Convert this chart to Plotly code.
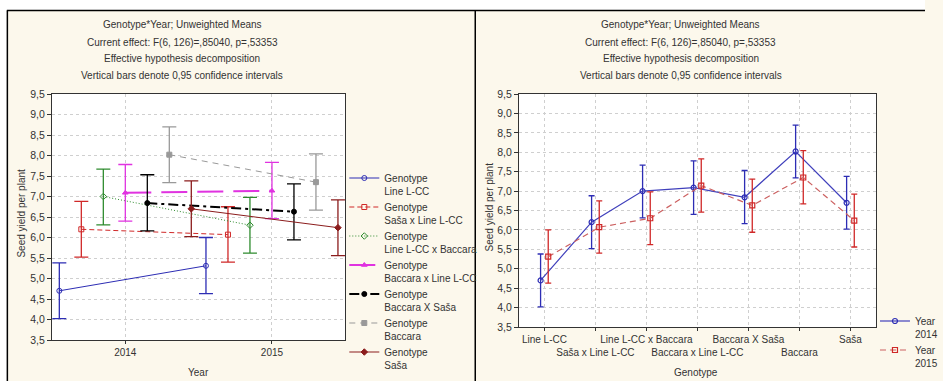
import plotly.graph_objects as go

W, H = 943, 381

genotypes = ["Line L-CC", "Saša x Line L-CC", "Line L-CC x Baccara",
             "Baccara x Line L-CC", "Baccara X Saša", "Baccara", "Saša"]
years = ["2014", "2015"]

mean_2014 = [4.70, 6.20, 7.00, 7.09, 6.84, 8.02, 6.70]
mean_2015 = [5.31, 6.07, 6.30, 7.14, 6.63, 7.35, 6.24]
low_2014 = [4.02, 5.52, 6.31, 6.40, 6.16, 7.34, 6.02]
up_2014 = [5.38, 6.88, 7.67, 7.78, 7.53, 8.70, 7.38]
low_2015 = [4.63, 5.40, 5.62, 6.46, 5.94, 6.67, 5.56]
up_2015 = [6.00, 6.75, 6.98, 7.83, 7.31, 8.04, 6.92]

title_lines = ["Genotype*Year; Unweighted Means",
               "Current effect: F(6, 126)=,85040, p=,53353",
               "Effective hypothesis decomposition",
               "Vertical bars denote 0,95 confidence intervals"]

FONT = "Liberation Sans, Arial, sans-serif"
FS = 10
TXT = "#333333"
CREAM = "#FCF8EC"

geno_styles = [
    dict(color="#2D2DB4", dash="solid", width=1, symbol="circle-open"),
    dict(color="#D02828", dash="5px,3px", width=1, symbol="square-open"),
    dict(color="#2E8B2E", dash="1px,2px", width=1, symbol="diamond-open"),
    dict(color="#E033E0", dash="26px,10px", width=2, symbol="triangle-up"),
    dict(color="#000000", dash="10px,4px,3px,4px", width=2, symbol="circle"),
    dict(color="#999999", dash="6px,5px", width=1, symbol="square"),
    dict(color="#8B1C1C", dash="solid", width=1, symbol="diamond"),
]

fig = go.Figure()

# ---- left panel: x = year, one trace per genotype
for i, g in enumerate(genotypes):
    st = geno_styles[i]
    off = (i - 3) * 0.15
    xs = [0 + off, 1 + off]
    ys = [mean_2014[i], mean_2015[i]]
    plus = [up_2014[i] - mean_2014[i], up_2015[i] - mean_2015[i]]
    minus = [mean_2014[i] - low_2014[i], mean_2015[i] - low_2015[i]]
    fig.add_trace(go.Scatter(
        x=xs, y=ys, mode="lines+markers", name="Genotype<br>" + g,
        line=dict(color=st["color"], dash=st["dash"], width=st["width"]),
        marker=dict(symbol=st["symbol"], size=5, color=st["color"],
                    line=dict(color=st["color"], width=1)),
        error_y=dict(type="data", symmetric=False, array=plus, arrayminus=minus,
                     color=st["color"], thickness=1.3, width=7),
        xaxis="x", yaxis="y", legend="legend",
    ))

# ---- right panel: x = genotype, one trace per year
year_styles = [
    dict(line="#4040BC", bar="#2D2DB4", dash="solid", symbol="circle-open", off=-0.075),
    dict(line="#CC6060", bar="#D02828", dash="6px,4px", symbol="square-open", off=0.075),
]
year_means = [mean_2014, mean_2015]
year_low = [low_2014, low_2015]
year_up = [up_2014, up_2015]
for k, yr in enumerate(years):
    st = year_styles[k]
    xs = [j + st["off"] for j in range(len(genotypes))]
    m = year_means[k]
    plus = [u - v for u, v in zip(year_up[k], m)]
    minus = [v - l for v, l in zip(m, year_low[k])]
    fig.add_trace(go.Scatter(
        x=xs, y=m, mode="lines+markers", name="Year<br>" + yr,
        line=dict(color=st["line"], dash=st["dash"], width=1.2),
        marker=dict(symbol=st["symbol"], size=5, color=st["bar"],
                    line=dict(color=st["bar"], width=1.2)),
        error_y=dict(type="data", symmetric=False, array=plus, arrayminus=minus,
                     color=st["bar"], thickness=1.3, width=3),
        xaxis="x2", yaxis="y2", legend="legend2",
    ))

def px_x(p):
    return p / W

def px_y(p):
    return 1 - p / H

yaxis_common = dict(range=[3.5, 9.5], dtick=0.5, tick0=3.5, tickformat=".1f",
                    showgrid=True, gridcolor="#CFCFCF", griddash="dot", gridwidth=1,
                    showline=True, linecolor="#333333", linewidth=1, mirror=True,
                    ticks="outside", ticklen=4, tickcolor="#333333", automargin=False,
                    tickfont=dict(family=FONT, size=FS + 0.5, color=TXT), zeroline=False)

xaxis_common = dict(showgrid=True, gridcolor="#CFCFCF", griddash="dot", gridwidth=1,
                    showline=True, linecolor="#333333", linewidth=1, mirror=True,
                    ticks="outside", ticklen=3, tickcolor="#333333", automargin=False,
                    tickangle=0,
                    tickfont=dict(family=FONT, size=FS, color=TXT), zeroline=False)

right_ticktext = [("<br>" + g) if j % 2 == 1 else g for j, g in enumerate(genotypes)]

annotations = []
for cx, yaxis_title_x, yaxis_title_y, xt, xtx in [
        (186, 21, 213, "Year", 202), (694, 499, 207, "Genotype", 710)]:
    for n, line in enumerate(title_lines):
        annotations.append(dict(text=line, x=px_x(cx), y=px_y(25 + 17 * n),
                                xref="paper", yref="paper", showarrow=False,
                                xanchor="center", yanchor="middle",
                                font=dict(family=FONT, size=FS, color=TXT)))
    annotations.append(dict(text="Seed yield per plant", x=px_x(yaxis_title_x),
                            y=px_y(yaxis_title_y), xref="paper", yref="paper",
                            showarrow=False, textangle=-90, xanchor="center",
                            yanchor="middle", font=dict(family=FONT, size=FS, color=TXT)))
    annotations.append(dict(text=xt, x=px_x(xtx), y=px_y(372), xref="paper", yref="paper",
                            showarrow=False, xanchor="center", yanchor="middle",
                            font=dict(family=FONT, size=FS, color=TXT)))

shapes = [
    dict(type="rect", xref="paper", yref="paper", x0=0, x1=1, y0=px_y(10), y1=1,
         fillcolor="white", line=dict(width=0), layer="below"),
    dict(type="rect", xref="paper", yref="paper", x0=0, x1=px_x(7), y0=0, y1=1,
         fillcolor="white", line=dict(width=0), layer="below"),
    dict(type="line", xref="paper", yref="paper", x0=px_x(7), x1=1, y0=px_y(10.5), y1=px_y(10.5),
         line=dict(color="black", width=1.5)),
    dict(type="line", xref="paper", yref="paper", x0=px_x(7.5), x1=px_x(7.5), y0=0, y1=px_y(10.5),
         line=dict(color="black", width=1.5)),
    dict(type="line", xref="paper", yref="paper", x0=px_x(484.5), x1=px_x(484.5), y0=0, y1=px_y(10.5),
         line=dict(color="black", width=1.5)),
]

fig.update_layout(
    width=W, height=H, autosize=False,
    margin=dict(l=0, r=0, t=0, b=0, pad=0),
    paper_bgcolor=CREAM, plot_bgcolor="white",
    separators=", ",
    font=dict(family=FONT, size=FS, color=TXT),
    xaxis=dict(domain=[px_x(53), px_x(352)], range=[-0.5, 1.5], tickvals=[0, 1],
               ticktext=years, anchor="y", **xaxis_common),
    yaxis=dict(domain=[px_y(340), px_y(94)], anchor="x", **yaxis_common),
    xaxis2=dict(domain=[px_x(529), px_x(893)], range=[-0.5, 6.5],
                tickvals=list(range(len(genotypes))), ticktext=right_ticktext,
                anchor="y2", **xaxis_common),
    yaxis2=dict(domain=[px_y(327), px_y(94)], anchor="x2", **yaxis_common),
    legend=dict(x=px_x(351), y=px_y(165), xanchor="left", yanchor="top",
                bgcolor="rgba(0,0,0,0)", valign="top", tracegroupgap=0,
                font=dict(family=FONT, size=FS, color=TXT), itemwidth=30),
    legend2=dict(x=px_x(892), y=px_y(308), xanchor="left", yanchor="top",
                 bgcolor="rgba(0,0,0,0)", valign="top", tracegroupgap=0,
                 font=dict(family=FONT, size=FS, color=TXT), itemwidth=30),
    showlegend=True,
    annotations=annotations,
    shapes=shapes,
)

fig.write_html("out.html")
